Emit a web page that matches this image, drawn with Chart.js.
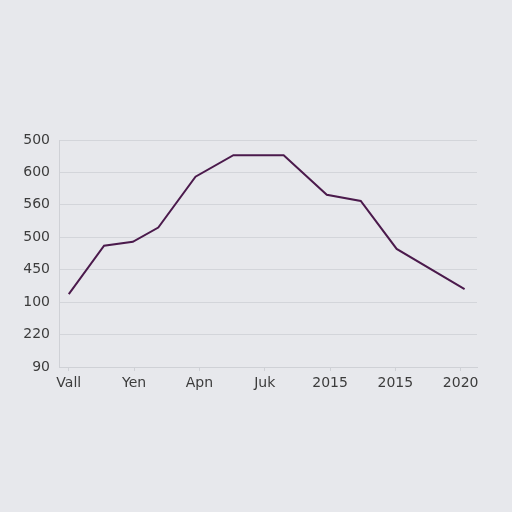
<!DOCTYPE html>
<html>
<head>
<meta charset="UTF-8">
<script src="https://cdn.jsdelivr.net/npm/chart.js"></script>
<style>
  html, body { margin: 0; padding: 0; background: #e7e8ec; }
  #wrap { width: 512px; height: 512px; }
</style>
</head>
<body>
<div id="wrap"><canvas id="chart" width="512" height="512"></canvas></div>
<script>
// x tick labels, one per whole step on the x axis
const xLabels = ["Vall", "Yen", "Apn", "Juk", "2015", "2015", "2020"];
// y tick labels, bottom to top, one per gridline
const yLabels = ["90", "220", "100", "450", "500", "560", "600", "500"];
// points (x in label steps, y in gridline steps)
const pointX = [0, 0.54, 0.98, 1.37, 1.94, 2.52, 3.29, 3.95, 4.47, 5.02, 6.06];
const pointY = [2.25, 3.74, 3.86, 4.30, 5.87, 6.53, 6.53, 5.31, 5.12, 3.64, 2.40];

const points = pointX.map((x, i) => ({ x: x, y: pointY[i] }));
const font = { family: "'DejaVu Sans', sans-serif", size: 14 };

new Chart(document.getElementById("chart"), {
  type: "line",
  data: {
    datasets: [{
      data: points,
      borderColor: "#4b1a4c",
      borderWidth: 2,
      pointRadius: 0,
      tension: 0,
      fill: false
    }]
  },
  options: {
    responsive: false,
    animation: false,
    layout: { padding: { left: 0, right: 35, top: 140, bottom: 115 } },
    plugins: { legend: { display: false }, tooltip: { enabled: false } },
    scales: {
      x: {
        type: "linear",
        min: -0.15,
        max: 6.25,
        afterBuildTicks: axis => { axis.ticks = xLabels.map((_, i) => ({ value: i })); },
        afterFit: axis => { axis.height = 30; },
        grid: { drawOnChartArea: false, drawTicks: true, tickLength: 4, color: "#cfd1d6" },
        border: { color: "#cfd1d6" },
        ticks: {
          color: "#3c3c3c",
          font: font,
          padding: 4,
          maxRotation: 0,
          autoSkip: false,
          callback: v => xLabels[v]
        }
      },
      y: {
        type: "linear",
        min: 0,
        max: 7,
        afterBuildTicks: axis => { axis.ticks = yLabels.map((_, i) => ({ value: i })); },
        afterFit: axis => { axis.width = 59; },
        grid: { color: "#d3d5da", drawTicks: false },
        border: { color: "#cfd1d6" },
        ticks: {
          color: "#3c3c3c",
          font: font,
          padding: 9,
          autoSkip: false,
          callback: v => yLabels[v]
        }
      }
    }
  }
});
</script>
</body>
</html>
